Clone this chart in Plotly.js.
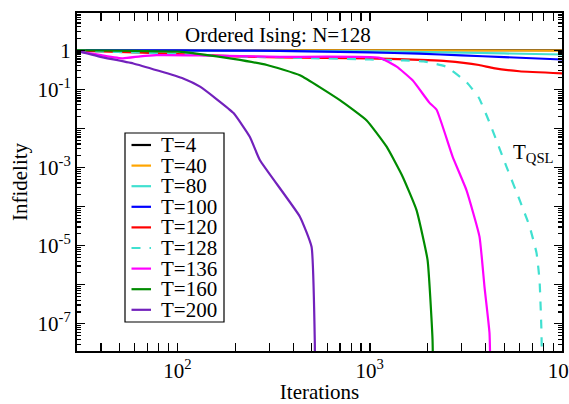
<!DOCTYPE html>
<html>
<head>
<meta charset="utf-8">
<script src="https://cdn.plot.ly/plotly-3.0.1.min.js"></script>
<style>html,body{margin:0;padding:0;background:#fff;}#chart{width:569px;height:404px;}</style>
</head>
<body>
<div id="chart"></div>
<script>
// ---- data ----
const seriesNames = ["T=4", "T=40", "T=80", "T=100", "T=120", "T=128", "T=136", "T=160", "T=200"];

const iters_T4   = [30, 100, 1000, 10000];
const infid_T4   = [1.0, 1.0, 1.0, 1.0];

const iters_T40  = [30, 100, 1000, 10000];
const infid_T40  = [0.99, 0.99, 0.99, 0.985];

const iters_T80  = [30, 100, 300, 1000, 2000, 5000, 10000];
const infid_T80  = [0.99, 0.985, 0.97, 0.94, 0.9, 0.83, 0.78];

const iters_T100 = [30, 100, 340, 1000, 1800, 3000, 5000, 10000];
const infid_T100 = [1.0, 0.99, 0.97, 0.88, 0.82, 0.74, 0.67, 0.58];

const iters_T120 = [30, 40, 60, 100, 200, 340, 1000, 2000, 2500, 3700, 4400, 6000, 10000];
const infid_T120 = [0.98, 0.93, 0.88, 0.8, 0.7, 0.66, 0.62, 0.56, 0.53, 0.42, 0.35, 0.29, 0.256];

const iters_T128 = [30, 40, 60, 100, 200, 500, 1000, 1500, 1900, 2500, 3200, 3700, 4200, 5140, 6010, 6780, 7370, 7640, 7820, 7900];
const infid_T128 = [0.98, 0.93, 0.88, 0.8, 0.7, 0.63, 0.58, 0.55, 0.52, 0.38, 0.15, 0.06, 1.4e-2, 1.05e-3, 1.5e-4, 3.1e-5, 6.5e-6, 1.3e-6, 6e-8, 1e-9];

const iters_T136 = [30, 40, 52, 64, 78, 131, 341, 1127, 1380, 1671, 2047, 2227, 2697, 3187, 3722, 3951, 4196, 4260];
const infid_T136 = [0.95, 0.75, 0.62, 0.7, 0.75, 0.74, 0.68, 0.64, 0.38, 0.17, 0.045, 0.03, 1.9e-3, 2.6e-4, 1.7e-5, 8.9e-7, 5.8e-8, 1e-9];

const iters_T160 = [30, 60, 100, 131, 195, 292, 433, 699, 964, 1224, 1483, 1751, 1998, 2121, 2140];
const infid_T160 = [1.0, 0.97, 0.92, 0.8, 0.6, 0.42, 0.23, 0.053, 1.6e-2, 3.4e-3, 5.8e-4, 8.1e-5, 4.3e-6, 3.9e-8, 1e-9];

const iters_T200 = [30, 31.3, 39.7, 58.9, 107, 131, 195, 238, 268, 433, 498, 518, 520];
const infid_T200 = [0.92, 0.91, 0.68, 0.46, 0.19, 0.117, 0.025, 6e-3, 1.55e-3, 5.5e-5, 9.3e-6, 3e-8, 1e-9];

const xTickVals = [100, 1000, 10000];
const xTickText = ["10<sup>2</sup>", "10<sup>3</sup>", "10<sup>4</sup>"];
const yTickVals = [1e-7, 1e-5, 1e-3, 1e-1, 1];
const yTickText = ["10<sup>-7</sup>", "10<sup>-5</sup>", "10<sup>-3</sup>", "10<sup>-1</sup>", "1"];
const yUnlabeledDecades = [1e-6, 1e-4, 1e-2];

// ---- styles ----
const seriesColors = ["#000000", "#FFA500", "#40E0D0", "#0000FF", "#FF0000", "#40E0D0", "#FF00FF", "#008B00", "#7221BC"];
const seriesDash   = ["solid", "solid", "solid", "solid", "solid", "dash", "solid", "solid", "solid"];

const xs = [iters_T4, iters_T40, iters_T80, iters_T100, iters_T120, iters_T128, iters_T136, iters_T160, iters_T200];
const ys = [infid_T4, infid_T40, infid_T80, infid_T100, infid_T120, infid_T128, infid_T136, infid_T160, infid_T200];

const FONT = "Liberation Serif, Times New Roman, serif";

const traces = seriesNames.map((n, i) => ({
  type: "scatter", mode: "lines", name: n,
  x: xs[i], y: ys[i],
  line: {color: seriesColors[i], width: 2.2, dash: seriesDash[i], shape: "spline", smoothing: 0.4},
  showlegend: false
}));
// empty helper trace so the tick-only overlay axis is drawn
traces.push({type: "scatter", mode: "lines", x: [], y: [], yaxis: "y2", showlegend: false, hoverinfo: "skip"});

// minor tick positions (2..9 per decade)
const minorX = [];
for (let e = 1; e <= 3; e++) for (let k = 2; k <= 9; k++) minorX.push(k * Math.pow(10, e));
const minorY = [];
for (let e = -8; e <= 0; e++) for (let k = 2; k <= 9; k++) minorY.push(k * Math.pow(10, e));

// hand-drawn legend box (tight Grace-style spacing), in paper coords
const L = 77, T = 13, W = 485, H = 338;
const px2x = p => (p - L) / W;
const py2y = p => (T + H - p) / H;
const shapes = [{
  type: "rect", xref: "paper", yref: "paper",
  x0: px2x(125), x1: px2x(224), y0: py2y(133), y1: py2y(322),
  line: {color: "black", width: 1.2}, fillcolor: "white", layer: "above"
}];
const annotations = [];
seriesNames.forEach((n, i) => {
  const yy = py2y(145 + i * 20.6);
  shapes.push({type: "line", xref: "paper", yref: "paper", x0: px2x(131.5), x1: px2x(151), y0: yy, y1: yy,
    line: {color: seriesColors[i], width: 2.2, dash: seriesDash[i] === "dash" ? "dash" : "solid"}, layer: "above"});
  annotations.push({xref: "paper", yref: "paper", x: px2x(159), y: yy, xanchor: "left", yanchor: "middle",
    text: n, showarrow: false, font: {family: FONT, size: 21, color: "black"}});
});
annotations.push({xref: "paper", yref: "paper", x: px2x(278), y: py2y(35), xanchor: "center", yanchor: "middle",
  text: "Ordered Ising: N=128", showarrow: false, font: {family: FONT, size: 21, color: "black"}});
annotations.push({xref: "paper", yref: "paper", x: px2x(511), y: py2y(153), xanchor: "left", yanchor: "middle",
  text: "T<sub>QSL</sub>", showarrow: false, font: {family: FONT, size: 21, color: "black"}});

const axisCommon = {
  type: "log", showgrid: false, zeroline: false,
  showline: true, linecolor: "black", linewidth: 2, mirror: "allticks",
  ticks: "inside", ticklen: 8, tickwidth: 1.5, tickcolor: "black",
  tickmode: "array",
  tickfont: {family: FONT, size: 21, color: "black"},
};
const yRange = [Math.log10(2e-8), Math.log10(9)];

const layout = {
  width: 569, height: 404,
  margin: {l: L, r: 569 - L - W, t: T, b: 404 - T - H, pad: 0},
  paper_bgcolor: "white", plot_bgcolor: "white",
  showlegend: false,
  xaxis: Object.assign({}, axisCommon, {
    range: [Math.log10(30), 4],
    tickvals: xTickVals, ticktext: xTickText,
    ticklabeloverflow: "allow",
    minor: {tickmode: "array", tickvals: minorX, ticks: "inside", ticklen: 4, tickwidth: 1.2, tickcolor: "black"},
    title: {text: "Iterations", font: {family: FONT, size: 21, color: "black"}, standoff: 0}
  }),
  yaxis: Object.assign({}, axisCommon, {
    range: yRange,
    tickvals: yTickVals, ticktext: yTickText,
    minor: {tickmode: "array", tickvals: minorY, ticks: "inside", ticklen: 4, tickwidth: 1.2, tickcolor: "black"},
    title: {text: "Infidelity", font: {family: FONT, size: 21, color: "black"}, standoff: 4}
  }),
  yaxis2: {
    type: "log", overlaying: "y", anchor: "x", side: "left", range: yRange,
    showgrid: false, zeroline: false, showline: true, linecolor: "black", linewidth: 2, mirror: "allticks",
    ticks: "inside", ticklen: 8, tickwidth: 1.5, tickcolor: "black",
    tickmode: "array", tickvals: yUnlabeledDecades, showticklabels: false
  },
  shapes: shapes,
  annotations: annotations
};

Plotly.newPlot("chart", traces, layout, {staticPlot: true, displayModeBar: false});
</script>
</body>
</html>
